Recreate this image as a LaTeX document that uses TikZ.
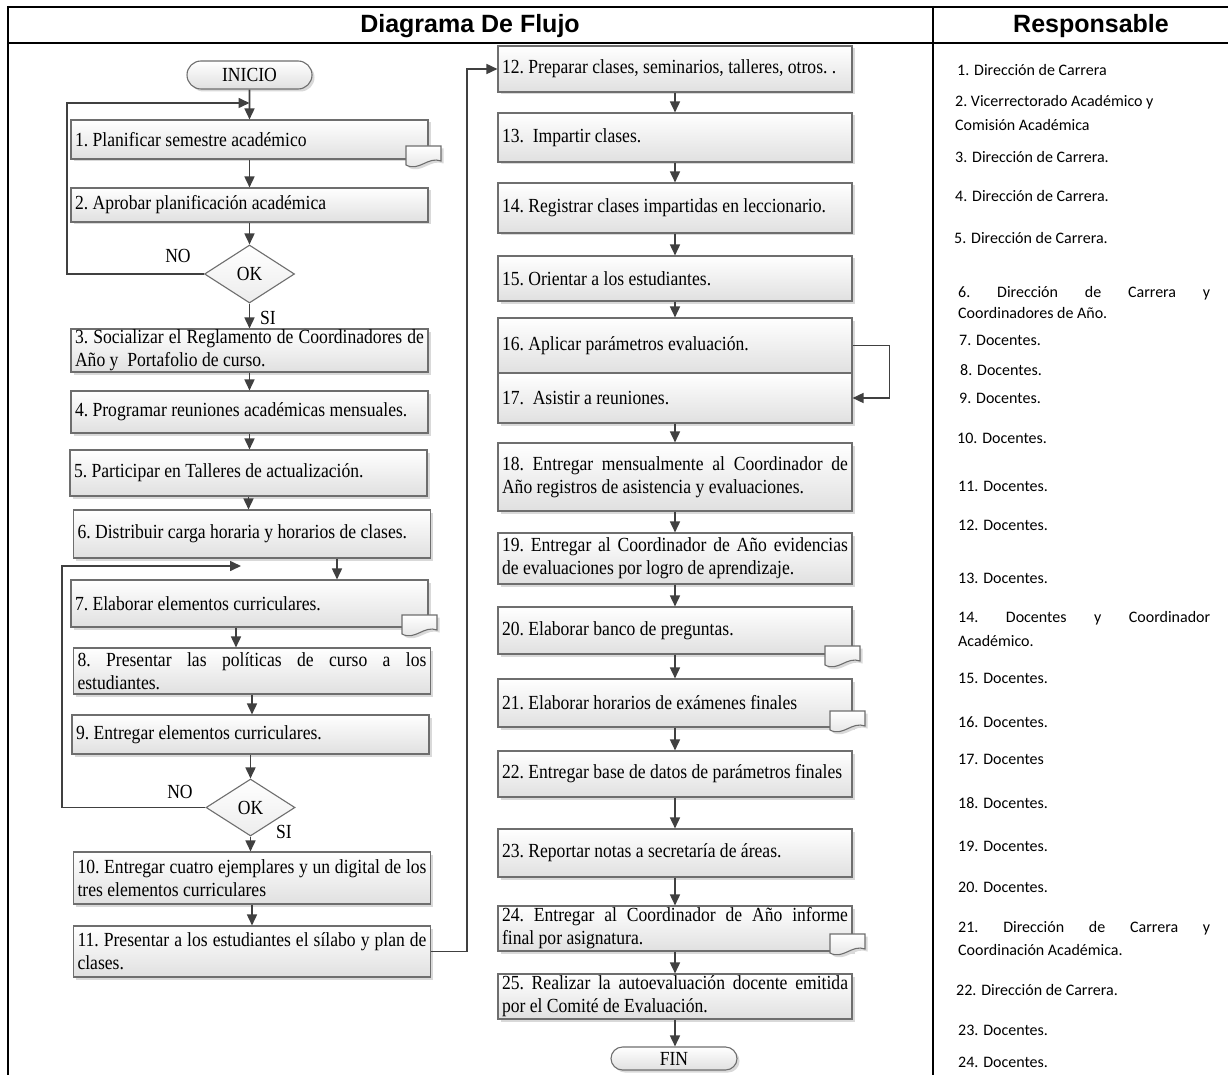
\documentclass[tikz,border=0pt]{standalone}
\usepackage{fontspec}
\usetikzlibrary{arrows.meta,shapes.geometric,shapes.misc,shadows}
\newfontfamily\flowfont[FakeStretch=0.88]{Liberation Serif}
\newfontfamily\respfont{Carlito}
\newfontfamily\headfont{Liberation Sans}
\definecolor{boxline}{HTML}{6E6E6E}
\definecolor{conn}{HTML}{404040}
\definecolor{boxbot}{HTML}{E0E0E0}
% a line of text spread to the given width
\newcommand\jline[2]{\makebox[#1][s]{#2}}
% small document symbol hanging from a step box
\newcommand\docmark[2]{%
  \begin{scope}[shift={(#1,#2)}]
    \draw[docsty] (0,0) -- (35,0) -- (35,15) .. controls (22,10) and (13,26) .. (0,19) -- cycle;
  \end{scope}}
\newcommand\flowsize{\flowfont\fontsize{20}{23}\selectfont\frenchspacing}

\begin{document}
\begin{tikzpicture}[x=1pt,y=-1pt,
  flowtext/.style={font=\flowsize},
  flowspace/.style={execute at begin node={\spaceskip=4.4pt plus 4pt minus 1pt\xspaceskip=\spaceskip\relax}},
  respspace/.style={execute at begin node={\spaceskip=3.6pt plus 4pt minus 1pt\xspaceskip=\spaceskip\relax}},
  shade/.style={top color=white, bottom color=boxbot},
  shad/.style={drop shadow={shadow xshift=2.5pt,shadow yshift=-2.5pt,fill=black!15,opacity=1}},
  pbox/.style={flowtext, flowspace, draw=boxline, line width=1.1pt, shade, shad,
    inner xsep=4pt, inner ysep=0pt, align=left},
  lbox/.style={pbox, text width=349pt},
  mbox/.style={pbox, text width=346pt},
  term/.style={flowtext, shape=rounded rectangle, draw=boxline, line width=1.1pt,
    shade, shad, inner sep=0pt},
  dia/.style={flowtext, shape=diamond, draw=boxline, line width=1.1pt,
    top color=white, bottom color=boxbot!60, inner sep=0pt},
  docsty/.style={draw=boxline, line width=1.1pt, shade, shad},
  lab/.style={flowtext, inner sep=0pt},
  arr/.style={draw=conn, line width=1.6pt, -{Triangle[length=11pt,width=10pt]}},
  frame/.style={draw=black, line width=2pt},
  head/.style={font=\headfont\bfseries\fontsize{25}{30}\selectfont, inner sep=0pt, anchor=base},
  resp/.style={font=\respfont\fontsize{16}{22}\selectfont, inner sep=0pt, anchor=base west},
  resp2/.style={font=\respfont\fontsize{16}{23}\selectfont, respspace, inner sep=0pt, anchor=west, align=left},
]
\useasboundingbox[fill=white] (0,0) rectangle (1228,1075);

% table frame
\draw[frame] (7,7) -- (1228,7);
\draw[frame] (7,43) -- (1228,43);
\draw[frame] (8,6) -- (8,1075);
\draw[frame] (933,6) -- (933,1075);
\node[head] (h1) at (470,33) {Diagrama De Flujo};
\node[head] (h2) at (1091,33) {Responsable};

% left column
\node[term, minimum width=125pt, minimum height=28pt] (ini) at (249.5,75) {INICIO};
\node[lbox, minimum height=39pt] (b1) at (249.5,139.5) {1. Planificar semestre académico};
\docmark{406}{146}
\node[lbox, minimum height=34pt] (b2) at (249.5,205) {2. Aprobar planificación académica};
\node[dia, minimum width=90pt, minimum height=58pt] (ok1) at (249.5,274) {OK};
\node[lbox, minimum height=43pt] (b3) at (249.5,350.5) {\jline{349pt}{3. Socializar el Reglamento de Coordinadores de}\\Año y~~Portafolio de curso.};
\node[lbox, minimum height=42pt] (b4) at (249.5,412) {4. Programar reuniones académicas mensuales.};
\node[lbox, minimum height=46pt] (b5) at (248.5,473) {5. Participar en Talleres de actualización.};
\node[lbox, minimum height=48pt] (b6) at (252,534) {6. Distribuir carga horaria y horarios de clases.};
\node[lbox, minimum height=47pt] (b7) at (249.5,603.5) {7. Elaborar elementos curriculares.};
\docmark{402}{615}
\node[lbox, minimum height=46pt] (b8) at (252,671) {\jline{349pt}{8. Presentar las políticas de curso a los}\\estudiantes.};
\node[lbox, minimum height=39pt] (b9) at (250.5,734.5) {9. Entregar elementos curriculares.};
\node[dia, minimum width=89pt, minimum height=57pt] (ok2) at (250.5,807.5) {OK};
\node[lbox, minimum height=52pt] (b10) at (252,878) {\jline{349pt}{10. Entregar cuatro ejemplares y un digital de los}\\tres elementos curriculares};
\node[lbox, minimum height=51pt] (b11) at (252,951.5) {\jline{349pt}{11. Presentar a los estudiantes el sílabo y plan de}\\clases.};

\node[lab] (no1) at (178,256) {NO};
\node[lab] (si1) at (268,318) {SI};
\node[lab] (no2) at (180,792) {NO};
\node[lab] (si2) at (284,832) {SI};

% middle column
\node[mbox, minimum height=46pt] (b12) at (675,69) {12. Preparar clases, seminarios, talleres, otros. .};
\node[mbox, minimum height=49pt] (b13) at (675,137.5) {13.~~Impartir clases.};
\node[mbox, minimum height=50pt] (b14) at (675,208) {14. Registrar clases impartidas en leccionario.};
\node[mbox, minimum height=45pt] (b15) at (675,278.5) {15. Orientar a los estudiantes.};
\node[mbox, minimum height=55pt] (b16) at (675,345.5) {16. Aplicar parámetros evaluación.};
\node[mbox, minimum height=50pt] (b17) at (675,398) {17.~~Asistir a reuniones.};
\node[mbox, minimum height=68pt] (b18) at (675,477) {\jline{346pt}{18. Entregar mensualmente al Coordinador de}\\Año registros de asistencia y evaluaciones.};
\node[mbox, minimum height=51pt] (b19) at (675,558.5) {\jline{346pt}{19. Entregar al Coordinador de Año evidencias}\\de evaluaciones por logro de aprendizaje.};
\node[mbox, minimum height=47pt] (b20) at (675,630.5) {20. Elaborar banco de preguntas.};
\docmark{825}{646}
\node[mbox, minimum height=48pt] (b21) at (675,703) {21. Elaborar horarios de exámenes finales};
\docmark{830}{711}
\node[mbox, minimum height=46pt] (b22) at (675,774) {22. Entregar base de datos de parámetros finales};
\node[mbox, minimum height=48pt] (b23) at (675,853) {23. Reportar notas a secretaría de áreas.};
\node[mbox, minimum height=45pt] (b24) at (675,928.5) {\jline{346pt}{24. Entregar al Coordinador de Año informe}\\final por asignatura.};
\docmark{830}{934}
\node[mbox, minimum height=45pt] (b25) at (675,996.5) {\jline{346pt}{25. Realizar la autoevaluación docente emitida}\\por el Comité de Evaluación.};
\node[term, minimum width=126pt, minimum height=23pt] (fin) at (674,1058.5) {FIN};

% connectors, left column
\coordinate (l1) at (67,103);
\coordinate (m1) at (249.5,103);
\coordinate (c7) at (337,0);
\coordinate (c8) at (236,0);
\coordinate (l2) at (62,566);
\coordinate (m2) at (241,566);
\coordinate (c12) at (467,0);
\draw[arr] (ini) -- (b1);
\draw[arr] (b1) -- (b2);
\draw[arr] (b2) -- (ok1);
\draw[arr] (ok1.west) -| (l1) -- (m1);
\draw[arr] (ok1) -- (b3);
\draw[arr] (b3) -- (b4);
\draw[arr] (b4.south) -- (b4.south |- b5.north);
\draw[arr] (b5.south) -- (b5.south |- b6.north);
\draw[arr] (c7 |- b6.south) -- (c7 |- b7.north);
\draw[arr] (c8 |- b7.south) -- (c8 |- b8.north);
\draw[arr] (b8.south) -- (b8.south |- b9.north);
\draw[arr] (b9) -- (ok2);
\draw[arr] (ok2.west) -| (l2) -- (m2);
\draw[arr] (ok2.south) -- (ok2.south |- b10.north);
\draw[arr] (b10) -- (b11);
\draw[arr] (b11.east) -- (c12 |- b11.east) |- (b12.west);

% connectors, middle column
\draw[arr] (b12) -- (b13);
\draw[arr] (b13) -- (b14);
\draw[arr] (b14) -- (b15);
\draw[arr] (b15) -- (b16);
\draw[arr] (b16.east) -- ++(37,0) |- (b17.east);
\draw[arr] (b17) -- (b18);
\draw[arr] (b18) -- (b19);
\draw[arr] (b19) -- (b20);
\draw[arr] (b20) -- (b21);
\draw[arr] (b21) -- (b22);
\draw[arr] (b22) -- (b23);
\draw[arr] (b23) -- (b24);
\draw[arr] (b24) -- (b25);
\draw[arr] (b25.south) -- (b25.south |- fin.north);

% responsible units
\node[resp] (r1) at (957,75.5) {1. Dirección de Carrera};
\node[resp2, font=\respfont\fontsize{16}{24}\selectfont] (r2) at (955,113) {2. Vicerrectorado Académico y\\Comisión Académica};
\node[resp] (r3) at (955,162.5) {3. Dirección de Carrera.};
\node[resp] (r4) at (955,201.5) {4. Dirección de Carrera.};
\node[resp] (r5) at (954,243.5) {5. Dirección de Carrera.};
\node[resp2, font=\respfont\fontsize{16}{21}\selectfont] (r6) at (958,302.5) {\jline{252pt}{6. Dirección de Carrera y}\\Coordinadores de Año.};
\node[resp] (r7) at (959,345.5) {7. Docentes.};
\node[resp] (r8) at (960,375.5) {8. Docentes.};
\node[resp] (r9) at (959,403.5) {9. Docentes.};
\node[resp] (r10) at (957,443.5) {10. Docentes.};
\node[resp] (r11) at (958,491.5) {11. Docentes.};
\node[resp] (r12) at (958,530.5) {12. Docentes.};
\node[resp] (r13) at (958,583.5) {13. Docentes.};
\node[resp2, font=\respfont\fontsize{16}{24}\selectfont] (r14) at (958,629) {\jline{252pt}{14. Docentes y Coordinador}\\Académico.};
\node[resp] (r15) at (958,683.5) {15. Docentes.};
\node[resp] (r16) at (958,727.5) {16. Docentes.};
\node[resp] (r17) at (958,764.5) {17. Docentes};
\node[resp] (r18) at (958,808.5) {18. Docentes.};
\node[resp] (r19) at (958,851.5) {19. Docentes.};
\node[resp] (r20) at (958,892.5) {20. Docentes.};
\node[resp2, font=\respfont\fontsize{16}{23}\selectfont] (r21) at (958,938.5) {\jline{252pt}{21. Dirección de Carrera y}\\Coordinación Académica.};
\node[resp] (r22) at (956,995.5) {22. Dirección de Carrera.};
\node[resp] (r23) at (958,1035.5) {23. Docentes.};
\node[resp] (r24) at (958,1067.5) {24. Docentes.};
\end{tikzpicture}
\end{document}
